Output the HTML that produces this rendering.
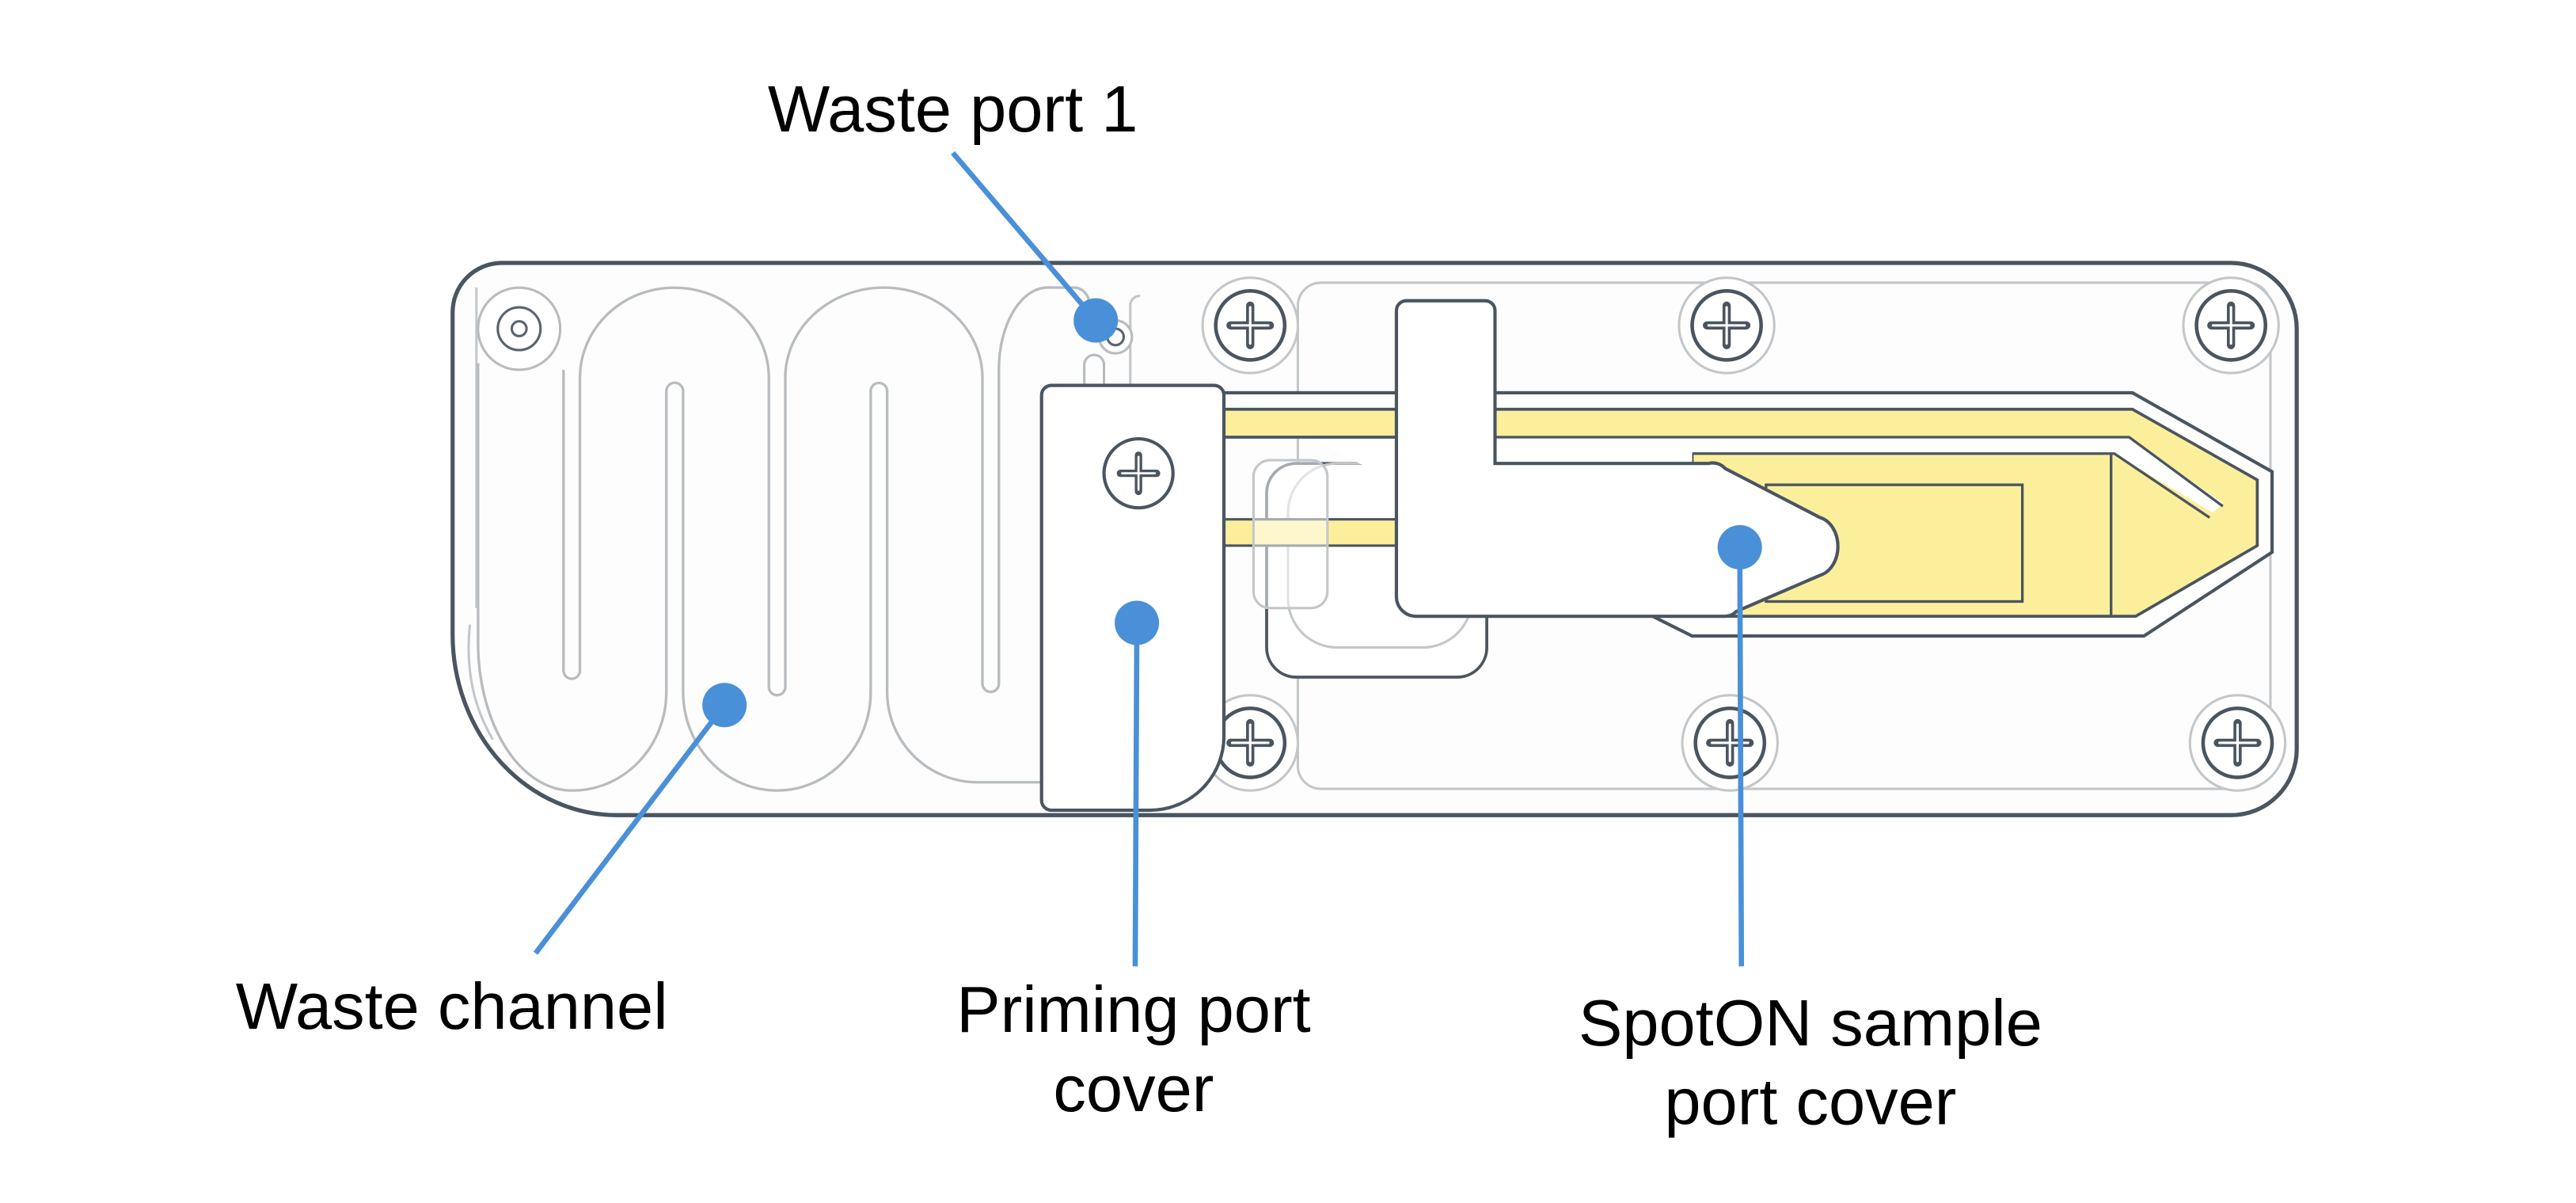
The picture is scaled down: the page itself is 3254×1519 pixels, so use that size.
<!DOCTYPE html>
<html><head><meta charset="utf-8"><style>
html,body{margin:0;padding:0;background:#fff;}
svg{display:block;}
text{font-family:"Liberation Sans",Arial,sans-serif;fill:#000;}
</style></head><body>
<svg width="3254" height="1519" viewBox="0 0 1568 732" preserveAspectRatio="none" xmlns="http://www.w3.org/2000/svg">
<rect width="1568" height="732" fill="#fff"/>
<path d="M305,160 H1358 A40,40 0 0 1 1398,200 V456 A40,40 0 0 1 1358,496 H375 A100,110 0 0 1 275.5,386 V190 A30,30 0 0 1 305,160 Z" fill="#fdfdfd" stroke="#4a5560" stroke-width="2.5"/>
<path d="M290,175 V370 M286,380 Q282,420 300,450" fill="none" stroke="#c4c7ca" stroke-width="1.5"/>
<rect x="790" y="172" width="592" height="308" rx="14" fill="none" stroke="#c4c7ca" stroke-width="1.5"/>
<circle cx="316" cy="200" r="25" fill="#fff" stroke="#b8bcbf" stroke-width="1.5"/>
<circle cx="316" cy="200" r="13" fill="none" stroke="#5a6470" stroke-width="1.5"/>
<circle cx="316" cy="200" r="4.5" fill="none" stroke="#5a6470" stroke-width="1.5"/>
<path d="M343,225 V408 A5,5 0 0 0 353,408 V230 A57.5,55 0 0 1 468,230 V418 A5,5 0 0 0 478,418 V230 A60,55 0 0 1 598,230 V416 A5,5 0 0 0 608,416 V225 A30,50 0 0 1 640,175 H655 A10,10 0 0 1 663,185" fill="none" stroke="#b8bcbf" stroke-width="1.6"/>
<path d="M291,221 V390 A57,90 0 0 0 348,481 A57,60 0 0 0 405.6,421 V238 A5,5 0 0 1 415.8,238 V421 A57,60 0 0 0 473,481 A57,60 0 0 0 530,421 V238 A5,5 0 0 1 540,238 V421 A55,55 0 0 0 595,476 H636" fill="none" stroke="#b8bcbf" stroke-width="1.6"/>
<path d="M660,236 V222 A6,6 0 0 1 672,222 V236" fill="none" stroke="#b8bcbf" stroke-width="1.5"/>
<path d="M688,236 V185 A6,6 0 0 1 694,180" fill="none" stroke="#c4c7ca" stroke-width="1.5"/>
<circle cx="679" cy="205" r="10" fill="#fff" stroke="#b8bcbf" stroke-width="1.5"/>
<circle cx="679" cy="205" r="5" fill="none" stroke="#5a6470" stroke-width="1.5"/>
<g fill="#fff" stroke-width="1.5">
<g transform="translate(761,198)"><circle r="29" stroke="#c4c7ca"/><circle r="21" stroke="#4a5560" stroke-width="2.2"/></g>
<g transform="translate(1051,198)"><circle r="29" stroke="#c4c7ca"/><circle r="21" stroke="#4a5560" stroke-width="2.2"/></g>
<g transform="translate(1358,198)"><circle r="29" stroke="#c4c7ca"/><circle r="21" stroke="#4a5560" stroke-width="2.2"/></g>
<g transform="translate(761,452)"><circle r="29" stroke="#c4c7ca"/><circle r="21" stroke="#4a5560" stroke-width="2.2"/></g>
<g transform="translate(1053,452)"><circle r="29" stroke="#c4c7ca"/><circle r="21" stroke="#4a5560" stroke-width="2.2"/></g>
<g transform="translate(1362,452)"><circle r="29" stroke="#c4c7ca"/><circle r="21" stroke="#4a5560" stroke-width="2.2"/></g>
</g>
<g stroke="#4a5560" stroke-width="5" stroke-linecap="round" fill="none">
<path d="M761,186 V210 M749,198 H773"/><path d="M1051,186 V210 M1039,198 H1063"/><path d="M1358,186 V210 M1346,198 H1370"/>
<path d="M761,440 V464 M749,452 H773"/><path d="M1053,440 V464 M1041,452 H1065"/><path d="M1362,440 V464 M1350,452 H1374"/>
</g>
<g stroke="#fff" stroke-width="1.5" stroke-linecap="round" fill="none">
<path d="M761,187 V209 M750,198 H772"/><path d="M1051,187 V209 M1040,198 H1062"/><path d="M1358,187 V209 M1347,198 H1369"/>
<path d="M761,441 V463 M750,452 H772"/><path d="M1053,441 V463 M1042,452 H1064"/><path d="M1362,441 V463 M1351,452 H1373"/>
</g>
<rect x="771" y="282" width="134" height="130" rx="18" fill="#fff" stroke="#4a5560" stroke-width="1.8"/>
<rect x="784" y="282" width="112" height="112" rx="30" fill="none" stroke="#c4c7ca" stroke-width="1.5"/>
<path d="M745,239 H1298 L1383,287 V336 L1305,387 H1030 L1004,374" fill="#fff" stroke="#4a5560" stroke-width="2"/>
<path d="M745,249 H1298 L1374,292 V332 L1300,375 H1030 V276 H850 V266 H745 Z" fill="#fcef9c" stroke="#4a5560" stroke-width="1.8"/>
<path d="M850,266.5 H1296 L1353,306 L1347,312 L1287,276 H1030 V282 H850 Z" fill="#fff"/>
<path d="M910,266 H1296 L1353,308" fill="none" stroke="#4a5560" stroke-width="1.6"/>
<path d="M1030,276 H1287 L1345,315" fill="none" stroke="#4a5560" stroke-width="1.6"/>
<line x1="1285" y1="276" x2="1285" y2="375" stroke="#4a5560" stroke-width="1.6"/>
<rect x="1075" y="295" width="156" height="71" fill="none" stroke="#4a5560" stroke-width="1.6"/>
<rect x="745" y="316" width="105" height="16" fill="#fcef9c" stroke="#4a5560" stroke-width="1.5"/>
<rect x="763" y="280" width="45" height="90" rx="10" fill="#fff" fill-opacity="0.5" stroke="#c4c7ca" stroke-width="1.5"/>
<path d="M856,183 H904 A6,6 0 0 1 910,189 V282 H1040 A10,10 0 0 1 1050,285 L1108,315 A14,18 0 0 1 1108,350 L1057,372 A10,10 0 0 1 1050,375 H862 A12,12 0 0 1 850,363 V189 A6,6 0 0 1 856,183 Z" fill="#fff" stroke="#4a5560" stroke-width="2"/>
<path d="M640,234.5 H739 A6,6 0 0 1 745,240.5 V448 A45,45 0 0 1 700,493 H640 A6,6 0 0 1 634,487 V240.5 A6,6 0 0 1 640,234.5 Z" fill="#fff" stroke="#4a5560" stroke-width="2"/>
<circle cx="693" cy="288" r="21" fill="#fff" stroke="#4a5560" stroke-width="2"/>
<path d="M693,277 V299 M682,288 H704" stroke="#4a5560" stroke-width="4.5" stroke-linecap="round"/>
<path d="M693,278 V298 M683,288 H703" stroke="#fff" stroke-width="1.3" stroke-linecap="round"/>
<g stroke="#4a90d9" stroke-width="3.2" fill="none">
<line x1="580" y1="93" x2="667" y2="195"/>
<line x1="441" y1="429" x2="326" y2="580"/>
<line x1="692" y1="379" x2="691" y2="588"/>
<line x1="1059" y1="333" x2="1060" y2="588"/>
</g>
<g fill="#4a90d9">
<circle cx="667" cy="195" r="13.5"/>
<circle cx="441" cy="429" r="13.5"/>
<circle cx="692" cy="379" r="13.5"/>
<circle cx="1059" cy="333" r="13.5"/>
</g>
<g font-size="40" text-anchor="middle">
<text x="580" y="80">Waste port 1</text>
<text x="275" y="626">Waste channel</text>
<text x="690" y="628">Priming port</text>
<text x="690" y="676">cover</text>
<text x="1102" y="636">SpotON sample</text>
<text x="1102" y="684">port cover</text>
</g>
</svg>
</body></html>
